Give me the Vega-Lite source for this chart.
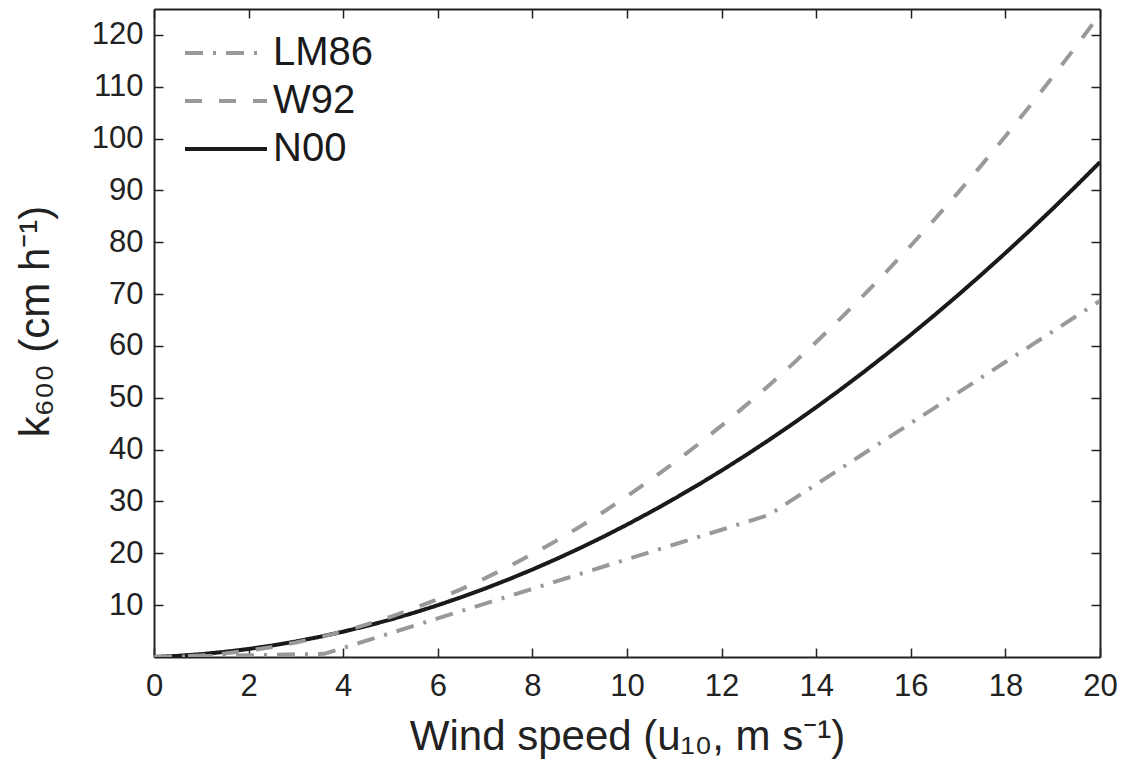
{
  "$schema": "https://vega.github.io/schema/vega-lite/v6.json",
  "width": 946,
  "height": 648,
  "autosize": "none",
  "padding": {"left": 154, "top": 9, "right": 29, "bottom": 108},
  "background": "white",
  "config": {"view": {"stroke": null}, "font": "Liberation Sans"},
  "data": {"values": [
    {"model": "N00", "u": 0, "k": 0}, {"model": "N00", "u": 0.5, "k": 0.222}, {"model": "N00", "u": 1, "k": 0.555}, {"model": "N00", "u": 1.5, "k": 0.999},
    {"model": "N00", "u": 2, "k": 1.554}, {"model": "N00", "u": 2.5, "k": 2.22}, {"model": "N00", "u": 3, "k": 2.997}, {"model": "N00", "u": 3.5, "k": 3.885},
    {"model": "N00", "u": 4, "k": 4.884}, {"model": "N00", "u": 4.5, "k": 5.994}, {"model": "N00", "u": 5, "k": 7.215}, {"model": "N00", "u": 5.5, "k": 8.547},
    {"model": "N00", "u": 6, "k": 9.99}, {"model": "N00", "u": 6.5, "k": 11.544}, {"model": "N00", "u": 7, "k": 13.209}, {"model": "N00", "u": 7.5, "k": 14.985},
    {"model": "N00", "u": 8, "k": 16.872}, {"model": "N00", "u": 8.5, "k": 18.87}, {"model": "N00", "u": 9, "k": 20.979}, {"model": "N00", "u": 9.5, "k": 23.199},
    {"model": "N00", "u": 10, "k": 25.53}, {"model": "N00", "u": 10.5, "k": 27.972}, {"model": "N00", "u": 11, "k": 30.525}, {"model": "N00", "u": 11.5, "k": 33.189},
    {"model": "N00", "u": 12, "k": 35.964}, {"model": "N00", "u": 12.5, "k": 38.85}, {"model": "N00", "u": 13, "k": 41.847}, {"model": "N00", "u": 13.5, "k": 44.955},
    {"model": "N00", "u": 14, "k": 48.174}, {"model": "N00", "u": 14.5, "k": 51.504}, {"model": "N00", "u": 15, "k": 54.945}, {"model": "N00", "u": 15.5, "k": 58.497},
    {"model": "N00", "u": 16, "k": 62.16}, {"model": "N00", "u": 16.5, "k": 65.934}, {"model": "N00", "u": 17, "k": 69.819}, {"model": "N00", "u": 17.5, "k": 73.815},
    {"model": "N00", "u": 18, "k": 77.922}, {"model": "N00", "u": 18.5, "k": 82.14}, {"model": "N00", "u": 19, "k": 86.469}, {"model": "N00", "u": 19.5, "k": 90.909},
    {"model": "N00", "u": 20, "k": 95.46},
    {"model": "LM86", "u": 0, "k": 0}, {"model": "LM86", "u": 1, "k": 0.17}, {"model": "LM86", "u": 2, "k": 0.34}, {"model": "LM86", "u": 3, "k": 0.51},
    {"model": "LM86", "u": 3.6, "k": 0.612}, {"model": "LM86", "u": 4, "k": 1.75}, {"model": "LM86", "u": 5, "k": 4.6}, {"model": "LM86", "u": 6, "k": 7.45},
    {"model": "LM86", "u": 7, "k": 10.3}, {"model": "LM86", "u": 8, "k": 13.15}, {"model": "LM86", "u": 9, "k": 16.0}, {"model": "LM86", "u": 10, "k": 18.85},
    {"model": "LM86", "u": 11, "k": 21.7}, {"model": "LM86", "u": 12, "k": 24.55}, {"model": "LM86", "u": 13, "k": 27.4}, {"model": "LM86", "u": 14, "k": 33.3},
    {"model": "LM86", "u": 15, "k": 39.2}, {"model": "LM86", "u": 16, "k": 45.1}, {"model": "LM86", "u": 17, "k": 51.0}, {"model": "LM86", "u": 18, "k": 56.9},
    {"model": "LM86", "u": 19, "k": 62.8}, {"model": "LM86", "u": 20, "k": 68.7},
    {"model": "W92", "u": 0, "k": 0}, {"model": "W92", "u": 0.5, "k": 0.0775}, {"model": "W92", "u": 1, "k": 0.31}, {"model": "W92", "u": 1.5, "k": 0.6975},
    {"model": "W92", "u": 2, "k": 1.24}, {"model": "W92", "u": 2.5, "k": 1.9375}, {"model": "W92", "u": 3, "k": 2.79}, {"model": "W92", "u": 3.5, "k": 3.7975},
    {"model": "W92", "u": 4, "k": 4.96}, {"model": "W92", "u": 4.5, "k": 6.2775}, {"model": "W92", "u": 5, "k": 7.75}, {"model": "W92", "u": 5.5, "k": 9.3775},
    {"model": "W92", "u": 6, "k": 11.16}, {"model": "W92", "u": 6.5, "k": 13.0975}, {"model": "W92", "u": 7, "k": 15.19}, {"model": "W92", "u": 7.5, "k": 17.4375},
    {"model": "W92", "u": 8, "k": 19.84}, {"model": "W92", "u": 8.5, "k": 22.3975}, {"model": "W92", "u": 9, "k": 25.11}, {"model": "W92", "u": 9.5, "k": 27.9775},
    {"model": "W92", "u": 10, "k": 31.0}, {"model": "W92", "u": 10.5, "k": 34.1775}, {"model": "W92", "u": 11, "k": 37.51}, {"model": "W92", "u": 11.5, "k": 40.9975},
    {"model": "W92", "u": 12, "k": 44.64}, {"model": "W92", "u": 12.5, "k": 48.4375}, {"model": "W92", "u": 13, "k": 52.39}, {"model": "W92", "u": 13.5, "k": 56.4975},
    {"model": "W92", "u": 14, "k": 60.76}, {"model": "W92", "u": 14.5, "k": 65.1775}, {"model": "W92", "u": 15, "k": 69.75}, {"model": "W92", "u": 15.5, "k": 74.4775},
    {"model": "W92", "u": 16, "k": 79.36}, {"model": "W92", "u": 16.5, "k": 84.3975}, {"model": "W92", "u": 17, "k": 89.59}, {"model": "W92", "u": 17.5, "k": 94.9375},
    {"model": "W92", "u": 18, "k": 100.44}, {"model": "W92", "u": 18.5, "k": 106.0975}, {"model": "W92", "u": 19, "k": 111.91}, {"model": "W92", "u": 19.5, "k": 117.8775},
    {"model": "W92", "u": 20, "k": 124.0}
  ]},
  "layer": [
    {
      "mark": {"type": "line", "strokeWidth": 4, "clip": true},
      "encoding": {
        "x": {"field": "u", "type": "quantitative", "scale": {"domain": [0, 20], "nice": false},
          "axis": {"orient": "bottom", "values": [0, 2, 4, 6, 8, 10, 12, 14, 16, 18, 20], "grid": false, "labelFlush": false,
            "tickSize": -9, "tickWidth": 1.5, "tickColor": "#222", "domainColor": "#222", "domainWidth": 2,
            "labelFontSize": 31, "labelColor": "#222", "labelPadding": 23, "labelFont": "Liberation Sans",
            "title": "Wind speed (u₁₀, m s⁻¹)", "titleFontSize": 42, "titleFontWeight": "normal", "titleColor": "#222",
            "titleFont": "Liberation Sans", "titlePadding": 15}},
        "y": {"field": "k", "type": "quantitative", "scale": {"domain": [0, 125], "nice": false},
          "axis": {"orient": "left", "values": [10, 20, 30, 40, 50, 60, 70, 80, 90, 100, 110, 120], "grid": false, "labelFlush": false,
            "tickSize": -9, "tickWidth": 1.5, "tickColor": "#222", "domainColor": "#222", "domainWidth": 2,
            "labelFontSize": 31, "labelColor": "#222", "labelPadding": 20, "labelFont": "Liberation Sans",
            "title": "k₆₀₀ (cm h⁻¹)", "titleFontSize": 42, "titleFontWeight": "normal", "titleColor": "#222",
            "titleFont": "Liberation Sans", "titlePadding": 34, "titleY": 312}},
        "stroke": {"field": "model", "type": "nominal",
          "scale": {"domain": ["LM86", "W92", "N00"], "range": ["#999999", "#999999", "#1a1a1a"]},
          "legend": {"title": null, "orient": "none", "legendX": 29, "legendY": 20, "padding": 0,
            "symbolType": "stroke", "symbolSize": 6724, "symbolStrokeWidth": 4, "labelFontSize": 40,
            "labelFont": "Liberation Sans", "labelColor": "#1a1a1a", "labelOffset": 4, "rowPadding": 0, "clipHeight": 48}},
        "strokeDash": {"field": "model", "type": "nominal",
          "scale": {"domain": ["LM86", "W92", "N00"], "range": [[18, 10, 3, 10], [17, 17], [1, 0]]},
          "legend": {"title": null, "orient": "none", "legendX": 29, "legendY": 20, "padding": 0,
            "symbolType": "stroke", "symbolSize": 6724, "symbolStrokeWidth": 4, "labelFontSize": 40,
            "labelFont": "Liberation Sans", "labelColor": "#1a1a1a", "labelOffset": 4, "rowPadding": 0, "clipHeight": 48}},
        "order": {"field": "u", "type": "quantitative"}
      }
    },
    {
      "mark": {"type": "line", "opacity": 0},
      "encoding": {
        "x": {"field": "u", "type": "quantitative",
          "axis": {"orient": "top", "values": [0, 2, 4, 6, 8, 10, 12, 14, 16, 18, 20], "grid": false, "labels": false, "title": null,
            "tickSize": -9, "tickWidth": 1.5, "tickColor": "#222", "domainColor": "#222", "domainWidth": 2}},
        "y": {"field": "k", "type": "quantitative",
          "axis": {"orient": "right", "values": [10, 20, 30, 40, 50, 60, 70, 80, 90, 100, 110, 120], "grid": false, "labels": false, "title": null,
            "tickSize": -9, "tickWidth": 1.5, "tickColor": "#222", "domainColor": "#222", "domainWidth": 2}},
        "detail": {"field": "model", "type": "nominal"}
      }
    }
  ],
  "resolve": {"axis": {"x": "independent", "y": "independent"}}
}
